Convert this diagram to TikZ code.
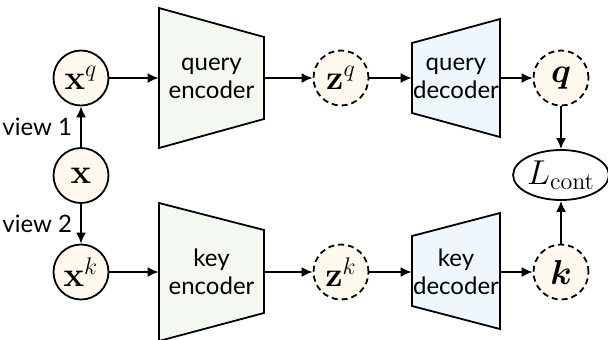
\documentclass[tikz,border=0pt]{standalone}
\usepackage[no-math]{fontspec}
\setmainfont{Lato}
\usepackage{amsmath}
\usepackage{bm}
\usetikzlibrary{arrows.meta, shapes.geometric}
\definecolor{nodecream}{RGB}{253,249,236}
\definecolor{encgreen}{RGB}{243,248,240}
\definecolor{decblue}{RGB}{239,247,252}
\tikzset{
	var/.style={
		draw,
		circle,
		fill=nodecream,
		line width=0.9pt,
		inner sep=0pt,
		minimum size=27.5pt,
		font=\LARGE
	},
	latent/.style={
		var,
		dash pattern=on 3pt off 2pt
	},
	boxtext/.style={
		inner sep=0pt,
		align=center,
		font=\fontsize{12}{14}\selectfont
	}
}

\begin{document}
\begin{tikzpicture}[x=0.5pt, y=-0.5pt]
	\tikzset{edge/.style={-{Latex[length=5.5pt, width=5pt]}, line width=0.9pt}}
	\tikzset{encoder/.style={draw, fill=encgreen, line width=0.9pt, line join=miter}}
	\tikzset{decoder/.style={draw, fill=decblue, line width=0.9pt, line join=miter}}
	\useasboundingbox (0,0) rectangle (608,339);
	
	\node(x) at (81,175.5) [var] {$\mathbf{x}$};
	\node(xq) at (81,78) [var] {$\mathbf{x}^q$};
	\node(xk) at (81,272) [var] {$\mathbf{x}^k$};
	\draw[edge](x) -- node[left, boxtext, inner sep=4pt]{view 1} (xq);
	\draw[edge](x) -- node[left, boxtext, inner sep=4pt]{view 2} (xk);
	
	% query branch
	\draw[encoder] (159,8) -- (264,37) -- (264,119) -- (159,148) -- cycle;
	\node(qenc) at (211.5,78) [boxtext, minimum width=52.5pt] {query\\encoder};
	\node(zq) at (341,78) [latent] {$\mathbf{z}^q$};
	\draw[decoder] (412,43) -- (500,19) -- (500,137) -- (412,113) -- cycle;
	\node(qdec) at (456,78) [boxtext, minimum width=44pt] {query\\decoder};
	\node(q) at (561,78) [latent] {$\bm{q}$};
	\draw[edge](xq) -- (qenc.west);
	\draw[edge](qenc.east) -- (zq);
	\draw[edge](zq) -- (qdec.west);
	\draw[edge](qdec.east) -- (q);
	
	% key branch
	\draw[encoder] (159,203) -- (264,230) -- (264,313) -- (159,341) -- cycle;
	\node(kenc) at (211.5,272) [boxtext, minimum width=52.5pt] {key\\encoder};
	\node(zk) at (341,272) [latent] {$\mathbf{z}^k$};
	\draw[decoder] (412,236) -- (500,213) -- (500,329) -- (412,306) -- cycle;
	\node(kdec) at (456,272) [boxtext, minimum width=44pt] {key\\decoder};
	\node(k) at (561,272) [latent] {$\bm{k}$};
	\draw[edge](xk) -- (kenc.west);
	\draw[edge](kenc.east) -- (zk);
	\draw[edge](zk) -- (kdec.west);
	\draw[edge](kdec.east) -- (k);
	
	% loss
	\node(loss) at (561,175) [draw, ellipse, line width=0.9pt, inner sep=0pt, minimum width=46pt, minimum height=25pt, font=\LARGE] {$L_{\mathrm{cont}}$};
	\draw[edge](q) -- (loss);
	\draw[edge](k) -- (loss);
\end{tikzpicture}
\end{document}
